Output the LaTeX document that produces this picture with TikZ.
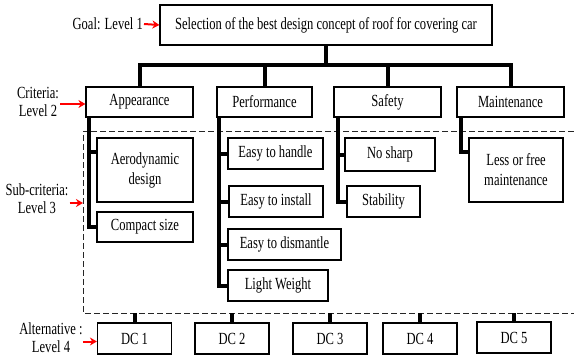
\documentclass[tikz,border=0pt]{standalone}
\usepackage{fontspec}
\setmainfont{Liberation Serif}[FakeStretch=0.74]
\usetikzlibrary{arrows.meta,positioning,calc}
\tikzset{
  hbox/.style={rectangle, draw=black, line width=1.2pt, align=center,
               inner sep=1pt, font=\fontsize{17}{20}\selectfont},
  goalbox/.style={hbox, minimum width=332pt, minimum height=40pt},
  critbox/.style={hbox, minimum height=30pt},
  subbox/.style={hbox, minimum height=31pt},
  altbox/.style={hbox, minimum width=74pt, minimum height=31pt},
  lvllabel/.style={align=center, inner sep=1pt, font=\fontsize{17}{18}\selectfont},
  conn/.style={line width=4pt, draw=black},
  lvlarr/.style={-{Stealth[length=7pt,width=8pt]}, line width=2pt, draw=red},
  subframe/.style={dash pattern=on 6pt off 3pt, line width=1pt, draw=black!85},
}
\begin{document}
\begin{tikzpicture}[x=1pt, y=-1pt]
    \useasboundingbox (0,0) rectangle (574,356);
    \node[goalbox] (goal) at (326,25) {Selection of the best design concept of roof for covering car};
    \node[critbox, minimum width=107pt] (app)   at (139.5,102) {Appearance};
    \node[critbox, minimum width=95pt]  (perf)  at (264.5,102) {Performance};
    \node[critbox, minimum width=107pt] (safe)  at (387.5,102) {Safety};
    \node[critbox, minimum width=107pt] (maint) at (510.5,102) {Maintenance};
    \node[subbox, minimum width=96pt, minimum height=64pt] (aero) at (145,170) {Aerodynamic\\design};
    \node[subbox, minimum width=96pt, minimum height=30pt] (compact) at (145,227) {Compact size};
    \node[subbox, minimum width=95pt]  (handle)    at (275.5,153.5) {Easy to handle};
    \node[subbox, minimum width=94pt]  (install)   at (276,201.5) {Easy to install};
    \node[subbox, minimum width=113pt] (dismantle) at (284.5,244.5) {Easy to dismantle};
    \node[subbox, minimum width=100pt] (light)     at (278,285.5) {Light Weight};
    \node[subbox, minimum width=90pt, minimum height=33pt] (nosharp) at (390,154.5) {No sharp};
    \node[subbox, minimum width=73pt]  (stab)      at (383.5,201.5) {Stability};
    \node[subbox, minimum width=94pt, minimum height=64pt] (lessfree) at (516,170) {Less or free\\maintenance};
    \node[altbox] (dc1) at (134.5,338.5) {DC 1};
    \node[altbox] (dc2) at (232,338.5) {DC 2};
    \node[altbox] (dc3) at (330,338.5) {DC 3};
    \node[altbox] (dc4) at (420,338.5) {DC 4};
    \node[altbox] (dc5) at (514,337.5) {DC 5};
    % level labels on the left
    \node[lvllabel, anchor=east] (goallbl) at (144,24) {Goal: Level 1};
    \node[lvllabel] (critlbl) at (38,102) {Criteria:\\Level 2};
    \node[lvllabel] (sublbl)  at (37,199) {Sub-criteria:\\Level 3};
    \node[lvllabel] (altlbl)  at (51,338) {Alternative :\\Level 4};
    \coordinate (bar) at (326,65);
    \coordinate (fnw) at (83,131);
    \coordinate (fne) at (574,131);
    \coordinate (fsw) at (83,313);
    \coordinate (fse) at (574,313);
    \draw[subframe] (fne) -- (fnw) -- (fsw) -- (fse);
    \draw[conn] (goal.south) -- (goal.south |- bar);
    \draw[conn] (app.north) |- (bar) -| (maint.north);
    \draw[conn] (perf.north) -- (perf.north |- bar);
    \draw[conn] (safe.north) -- (safe.north |- bar);
    \draw[conn] ([xshift=4pt]app.south west) |- (compact.west);
    \draw[conn] ([xshift=4pt]app.south west) |- ([yshift=-15pt]aero.north west);
    \draw[conn] ([xshift=3pt]perf.south west) |- (light.west);
    \draw[conn] ([xshift=3pt]perf.south west) |- (handle.west);
    \draw[conn] ([xshift=3pt]perf.south west) |- (install.west);
    \draw[conn] ([xshift=3pt]perf.south west) |- (dismantle.west);
    \draw[conn] ([xshift=5pt]safe.south west) |- (stab.west);
    \draw[conn] ([xshift=5pt]safe.south west) |- (nosharp.west);
    \draw[conn] ([xshift=5pt]maint.south west) |- ([yshift=-15pt]lessfree.north west);
    \foreach \dc in {dc1,dc2,dc3,dc4,dc5}
      \draw[conn] (\dc.north) -- (\dc.north |- fsw);
    \draw[lvlarr] (goallbl.east) -- (goal.west);
    \draw[lvlarr] ([yshift=-2pt]app.west -| critlbl.east) -- ([yshift=-2pt]app.west);
    \draw[lvlarr] ([yshift=-4pt]sublbl.east) -- ([yshift=-4pt]sublbl.east -| fnw);
    \draw[lvlarr] ([xshift=-14pt,yshift=-3pt]dc1.west) -- ([yshift=-3pt]dc1.west);
\end{tikzpicture}
\end{document}
